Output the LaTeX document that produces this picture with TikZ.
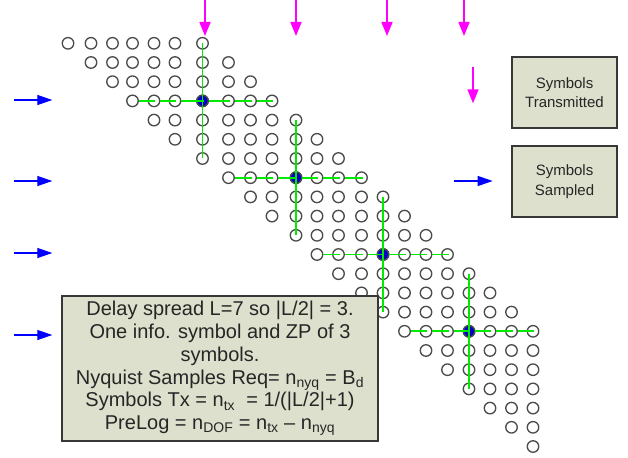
\documentclass[tikz,border=0pt]{standalone}
\usepackage{fontspec}
\setmainfont{Liberation Sans}
\usetikzlibrary{arrows.meta}
\definecolor{boxfill}{RGB}{221,224,204}
\definecolor{boxline}{RGB}{55,55,55}
\definecolor{dotline}{RGB}{75,75,75}
\definecolor{dotblue}{RGB}{0,0,205}
\definecolor{glin}{RGB}{0,235,0}
\definecolor{pinkc}{RGB}{255,0,255}
\definecolor{txt}{RGB}{38,38,38}
\begin{document}
\begin{tikzpicture}[x=1pt,y=-1pt,
  dot/.style={circle,draw=dotline,line width=1.35pt,minimum size=11.5pt,inner sep=0pt},
  bluedot/.style={dot,fill=dotblue},
  gline/.style={glin,line width=1.8pt},
  parrow/.style={pinkc,line width=1.6pt,-{Triangle[length=14pt,width=11pt]}},
  barrow/.style={blue,line width=1.2pt,-{Triangle[length=15pt,width=10pt]}},
  infobox/.style={draw=boxline,line width=1.5pt,fill=boxfill,minimum width=316pt,minimum height=145pt,align=center,text=txt,font=\fontsize{20}{22.8}\selectfont,inner sep=0pt},
  legbox/.style={draw=boxline,line width=1.5pt,fill=boxfill,minimum width=105pt,minimum height=71pt,align=center,text=txt,font=\fontsize{15}{19.6}\selectfont,inner sep=0pt}]
\useasboundingbox (0,0) rectangle (628,457);
\def\colx{{68,91,112.5,132.5,154,175,202.5,228.5,250.5,272,296,317,338.5,361.5,383,404.5,426,447.5,469,490,511.5,533}}
\foreach \r in {0,...,21}{
  \pgfmathtruncatemacro\last{min(\r+6,21)}
  \foreach \c in {\r,...,\last}{
    \pgfmathsetmacro\xx{\colx[\c]}
    \pgfmathsetmacro\yy{43.3+19.2*\r}
    \node[dot] (p\r-\c) at (\xx,\yy) {};
  }
}
% blue symbols
\node[bluedot] (b1) at (p3-6.center) {};
\node[bluedot] (b2) at (p7-10.center) {};
\node[bluedot] (b3) at (p11-14.center) {};
\node[bluedot] (b4) at (p15-18.center) {};
% horizontal green
\foreach \r in {3,7,11,15}{
  \foreach \k in {0,...,5}{
    \pgfmathtruncatemacro\a{\r+\k}
    \pgfmathtruncatemacro\b{\r+\k+1}
    \draw[gline] (p\r-\a.east) -- ([xshift=1pt]p\r-\b.center);
  }
}
% vertical green
\foreach \c/\r in {6/0,10/4,14/8,18/12}{
  \pgfmathtruncatemacro\e{\r+6}
  \draw[gline] (p\r-\c.center) -- (p\e-\c.center);
}
% top pink arrows
\foreach \i/\x in {1/205,2/296,3/387,4/464}{
  \coordinate (ms\i) at (\x,0);
  \coordinate (me\i) at (\x,36);
  \draw[parrow] (ms\i) -- (me\i);
}
% left blue arrows
\foreach \i/\y in {1/100,2/181,3/253,4/335}{
  \coordinate (bs\i) at (14,\y);
  \coordinate (be\i) at (52.3,\y);
  \draw[barrow] (bs\i) -- (be\i);
}
% info box
\node[infobox] (info) at (220,368.5) {Delay spread L=7 so |L/2| = 3.\\
One info. symbol and ZP of 3\\
symbols.\\
Nyquist Samples Req= n\textsubscript{nyq} = B\textsubscript{d}\\
Symbols Tx = n\textsubscript{tx}\ \ = 1/(|L/2|+1)\\
PreLog = n\textsubscript{DOF} = n\textsubscript{tx} – n\textsubscript{nyq}};
% legend
\node[legbox] (ltx) at (564.5,92.5) {Symbols\\Transmitted};
\node[legbox] (lsm) at (564.5,181.5) {Symbols\\Sampled};
\coordinate (lps) at (473,66.7);
\coordinate (lpe) at (473,103.3);
\draw[parrow] (lps) -- (lpe);
\coordinate (lbs) at (454,181);
\coordinate (lbe) at (492.7,181);
\draw[barrow] (lbs) -- (lbe);
\end{tikzpicture}
\end{document}
